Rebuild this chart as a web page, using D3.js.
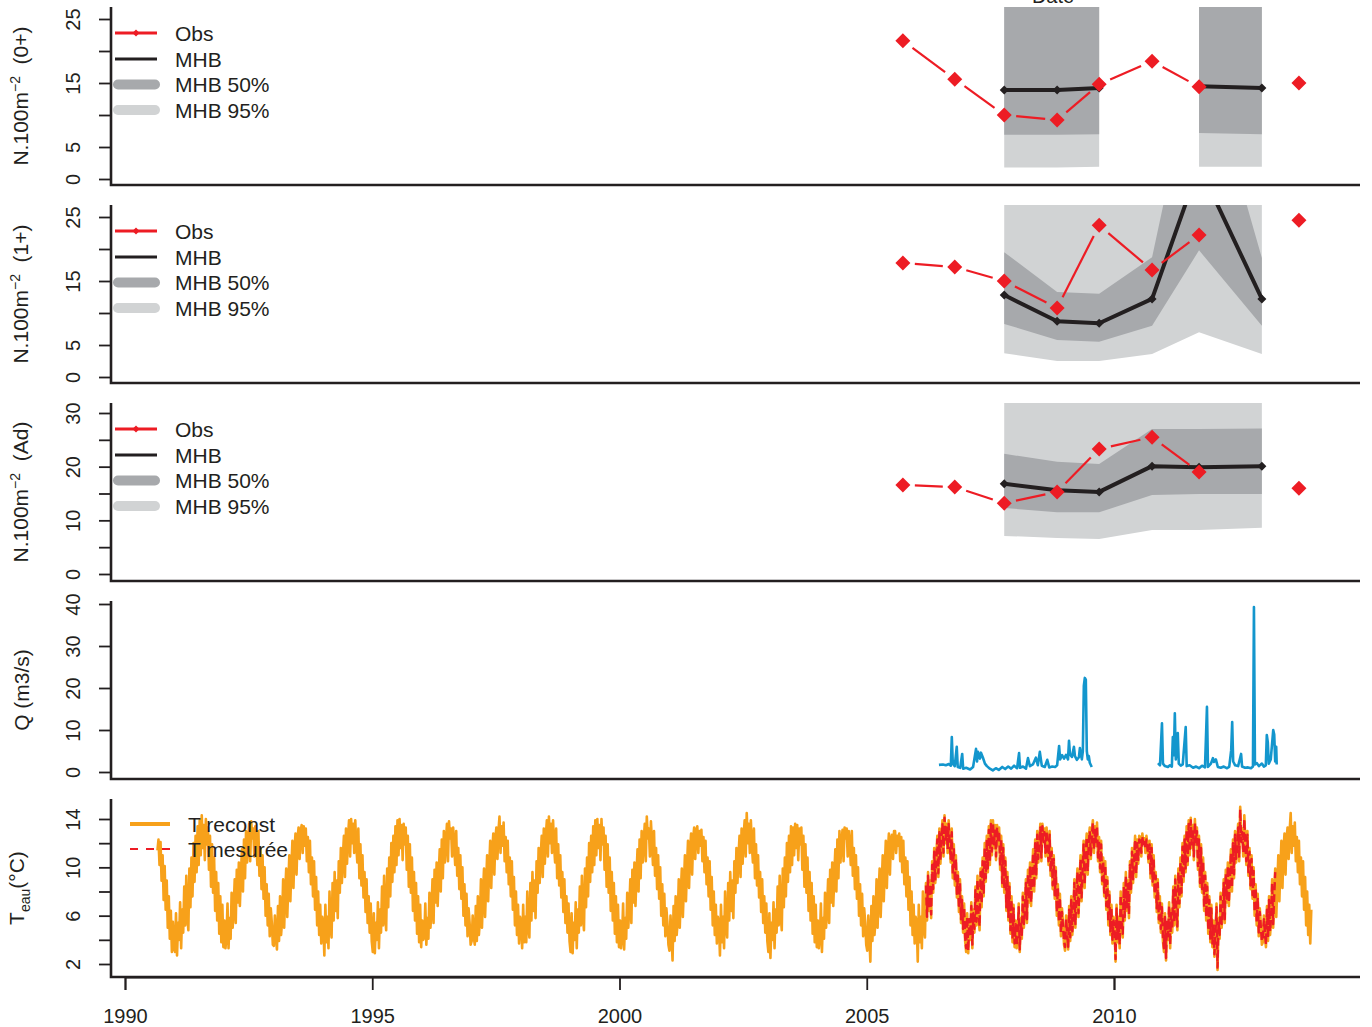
<!DOCTYPE html>
<html><head><meta charset="utf-8">
<script src="https://cdn.jsdelivr.net/npm/d3@7"></script>
<style>body{margin:0;background:#fff} svg{display:block;font-family:"Liberation Sans",Arial,Helvetica,sans-serif}</style>
</head><body><svg id="c" width="1372" height="1027"></svg>
<script>
// ---------------- DATA ----------------
const xTickYears = [1990, 1995, 2000, 2005, 2010];

// sampling dates (decimal years) of observations
const obsYears = [2005.73, 2006.78, 2007.78, 2008.85, 2009.70, 2010.77, 2011.72, 2012.99, 2013.74];
const obs0  = [21.6, 15.6, 10.0, 9.2, 14.8, 18.4, 14.4, null, 15.0];
const obs1  = [17.8, 17.2, 15.0, 10.8, 23.7, 16.7, 22.2, null, 24.5];
const obsAd = [16.6, 16.2, 13.2, 15.3, 23.3, 25.5, 19.0, null, 16.0];

// MHB model (median + 50% and 95% bands)
const mhbYears = [2007.78, 2008.85, 2009.70, 2010.77, 2011.72, 2012.99];
const mhb0     = [13.9, 13.9, 14.2, null, 14.5, 14.2];
const mhb0lo50 = [6.9, 6.9, 7.0, null, 7.2, 7.0];
const mhb0hi50 = [45, 45, 45, null, 45, 45];
const mhb0lo95 = [1.8, 1.8, 1.9, null, 1.9, 1.9];
const mhb0hi95 = [70, 70, 70, null, 70, 70];

const mhb1     = [12.8, 8.7, 8.4, 12.2, 33.0, 12.2];
const mhb1lo50 = [8.3, 5.8, 5.5, 8.0, 19.8, 8.0];
const mhb1hi50 = [19.5, 13.3, 13.0, 18.7, 53.0, 18.6];
const mhb1lo95 = [3.7, 2.5, 2.5, 3.6, 7.0, 3.6];
const mhb1hi95 = [45, 45, 45, 45, 80, 45];

const mhbAd     = [16.8, 15.6, 15.3, 20.1, 19.9, 20.1];
const mhbAdlo50 = [12.3, 11.5, 11.5, 14.7, 14.9, 14.9];
const mhbAdhi50 = [22.4, 20.9, 20.5, 27.0, 27.0, 27.1];
const mhbAdlo95 = [7.1, 6.7, 6.5, 8.2, 8.2, 8.6];
const mhbAdhi95 = [45, 45, 45, 45, 45, 45];

// Discharge Q (m3/s): dates and values (null = gap)
const qYears = [
 2006.46,2006.54,2006.60,2006.66,2006.70,2006.72,2006.74,2006.78,2006.82,2006.84,2006.89,2006.93,2006.95,2007.01,2007.09,2007.15,
 2007.21,2007.23,2007.25,2007.29,2007.31,2007.35,2007.39,2007.43,2007.49,2007.55,2007.61,2007.67,2007.74,2007.80,2007.86,2007.92,
 2007.98,2008.04,2008.08,2008.10,2008.16,2008.22,2008.26,2008.30,2008.36,2008.42,2008.46,2008.50,2008.54,2008.60,2008.65,2008.69,
 2008.75,2008.81,2008.85,2008.89,2008.91,2008.95,2008.99,2009.03,2009.07,2009.09,2009.11,2009.15,2009.19,2009.21,2009.25,2009.29,
 2009.31,2009.35,2009.37,2009.39,2009.41,2009.43,2009.45,2009.47,2009.49,2009.51,2009.55,
 2010.20,
 2010.89,2010.93,2010.97,2010.99,2011.03,2011.09,2011.13,2011.17,2011.19,2011.21,2011.23,2011.25,2011.29,2011.31,2011.35,2011.39,
 2011.45,2011.47,2011.53,2011.60,2011.66,2011.72,2011.78,2011.84,2011.88,2011.90,2011.96,2012.00,2012.02,2012.06,2012.10,2012.16,
 2012.22,2012.28,2012.33,2012.37,2012.39,2012.41,2012.45,2012.51,2012.57,2012.59,2012.65,2012.71,2012.77,2012.81,2012.83,2012.85,
 2012.89,2012.93,2012.99,2013.03,2013.07,2013.09,2013.11,2013.13,2013.17,2013.22,2013.24,2013.26,2013.28,2013.29];
const qValues = [
 1.7,1.8,1.6,1.9,1.5,8.3,2.0,1.4,6.0,1.2,1.0,4.3,0.8,1.0,0.6,1.2,
 5.5,2.5,4.8,3.2,4.6,3.4,2.0,1.4,0.8,0.4,0.9,0.5,1.2,0.7,1.3,0.8,
 1.5,0.9,4.5,1.0,1.3,0.8,3.3,1.4,1.8,3.4,1.6,4.8,1.5,1.2,2.9,1.1,
 1.3,1.2,1.6,6.2,3.0,4.0,3.2,4.1,3.0,7.4,4.2,3.6,6.0,3.8,2.9,3.5,
 5.7,3.0,5.0,20.5,22.4,22.0,5.0,3.0,3.8,2.2,1.2,
 null,
 2.1,1.6,11.6,2.0,1.4,1.2,1.6,1.3,8.3,4.0,14.0,3.0,9.3,2.0,1.5,1.8,
 10.7,1.4,1.6,1.0,1.3,0.9,1.5,1.1,15.5,1.2,2.0,3.3,2.4,3.0,1.2,1.0,
 1.3,0.9,1.2,5.2,11.9,2.5,1.6,1.4,4.3,1.3,1.0,1.1,0.9,1.3,39.3,1.8,
 2.1,1.4,2.0,1.3,1.6,8.8,7.1,2.0,3.0,10.0,8.9,2.5,6.0,1.8];

// Water temperature, weekly values (48 per year). Reconstructed series starts at week 31 of 1990
const tStep = 1/48;
const tReconstStart = 1990 + 31/48 + 1/96;
const tReconst = [
 11.4,12.3,10.2,12.1,8.9,11.0,7.3,10.1,6.5,8.9,5.0,7.6,4.1,6.4,3.0,5.5,3.4,
 3.0,6.2,2.7,5.4,4.0,7.1,3.3,6.5,4.6,8.4,5.2,9.3,6.0,4.8,9.9,6.7,10.8,7.6,12.0,8.8,12.6,9.6,13.4,10.2,13.9,11.0,14.3,11.6,13.5,10.6,14.0,11.9,13.3,9.8,12.6,8.4,11.9,7.9,10.8,6.4,9.6,5.6,8.7,4.5,7.6,3.8,6.9,3.4,
 5.6,3.3,4.2,7.0,3.3,5.8,4.1,7.9,5.0,6.6,9.0,5.4,9.8,7.1,10.4,6.8,9.4,11.5,8.0,12.3,9.1,13.0,10.4,12.1,13.6,10.5,13.8,12.4,13.2,10.9,13.4,12.0,10.2,13.0,9.3,11.6,8.2,11.0,7.4,10.0,6.0,8.6,5.2,7.8,4.3,6.6,5.4,3.6,
 3.5,6.0,4.3,3.2,6.8,3.9,7.6,4.4,5.6,9.0,5.0,7.9,9.9,5.9,8.5,11.0,7.2,10.0,12.2,8.3,11.4,12.8,9.4,12.4,13.3,10.7,13.0,13.5,11.2,13.4,11.8,13.2,10.5,12.5,9.6,12.2,8.6,10.8,7.6,10.5,6.5,9.2,5.2,8.0,4.4,6.9,3.7,5.9,
 5.4,2.7,6.9,3.8,5.9,3.3,8.0,5.1,4.2,8.7,5.6,9.6,6.4,8.9,5.8,10.5,7.9,11.6,8.7,10.9,12.6,9.2,13.2,10.3,12.6,13.9,10.9,14.0,12.0,13.6,11.2,13.9,11.8,10.4,13.2,9.1,11.9,8.5,11.0,7.5,9.6,6.3,9.0,5.4,7.6,4.6,7.0,3.9,
 3.0,6.2,2.9,5.4,4.0,7.1,3.3,6.5,4.6,8.4,5.2,9.3,6.0,4.8,9.9,6.7,10.8,7.6,12.0,8.8,12.6,9.6,13.4,10.2,13.9,11.0,14.0,11.6,13.5,10.6,13.6,11.9,13.3,9.8,12.6,8.4,11.9,7.9,10.8,6.4,9.6,5.6,8.7,4.5,7.6,3.8,6.9,3.4,
 5.6,4.0,4.2,7.0,3.6,5.8,4.1,7.9,5.0,6.6,9.0,5.4,9.8,7.1,10.4,6.8,9.4,11.5,8.0,12.3,9.1,13.0,10.4,12.1,13.6,10.5,13.8,12.4,13.2,10.9,13.3,12.0,10.2,13.0,9.3,11.6,8.2,11.0,7.4,10.0,6.0,8.6,5.2,7.8,4.3,6.6,5.4,3.6,
 3.9,6.0,4.3,3.6,6.8,3.9,7.6,4.4,5.6,9.0,5.0,7.9,9.9,5.9,8.5,11.0,7.2,10.0,12.2,8.3,11.4,12.8,9.4,12.4,13.3,10.7,13.0,14.2,11.2,13.4,11.8,13.7,10.5,12.5,9.6,12.2,8.6,10.8,7.6,10.5,6.5,9.2,5.2,8.0,4.4,6.9,3.7,5.9,
 5.4,3.3,6.9,3.8,5.9,3.8,8.0,5.1,4.2,8.7,5.6,9.6,6.4,8.9,5.8,10.5,7.9,11.6,8.7,10.9,12.6,9.2,13.2,10.3,12.6,13.9,10.9,14.2,12.0,13.6,11.2,13.9,11.8,10.4,13.2,9.1,11.9,8.5,11.0,7.5,9.6,6.3,9.0,5.4,7.6,4.6,7.0,3.9,
 3.0,6.2,2.9,5.4,4.0,7.1,3.3,6.5,4.6,8.4,5.2,9.3,6.0,4.8,9.9,6.7,10.8,7.6,12.0,8.8,12.6,9.6,13.4,10.2,13.9,11.0,14.0,11.6,13.5,10.6,14.0,11.9,13.3,9.8,12.6,8.4,11.9,7.9,10.8,6.4,9.6,5.6,8.7,4.5,7.6,3.8,6.9,3.4,
 5.6,3.3,4.2,7.0,3.2,5.8,4.1,7.9,5.0,6.6,9.0,5.4,9.8,7.1,10.4,6.8,9.4,11.5,8.0,12.3,9.1,13.0,10.4,12.1,13.6,10.5,14.2,12.4,13.2,10.9,13.8,12.0,10.2,13.0,9.3,11.6,8.2,11.0,7.4,10.0,6.0,8.6,5.2,7.8,4.3,6.6,5.4,3.6,
 3.1,6.0,4.3,2.3,6.8,3.9,7.6,4.4,5.6,9.0,5.0,7.9,9.9,5.9,8.5,11.0,7.2,10.0,12.2,8.3,11.4,12.8,9.4,12.4,13.3,10.7,13.0,13.4,11.2,13.0,11.8,13.1,10.5,12.5,9.6,12.2,8.6,10.8,7.6,10.5,6.5,9.2,5.2,8.0,4.4,6.9,3.7,5.9,
 5.4,2.7,6.9,3.8,5.9,3.3,8.0,5.1,4.2,8.7,5.6,9.6,6.4,8.9,5.8,10.5,7.9,11.6,8.7,10.9,12.6,9.2,13.2,10.3,12.6,13.9,10.9,14.5,12.0,13.6,11.2,13.9,11.8,10.4,13.2,9.1,11.9,8.5,11.0,7.5,9.6,6.3,9.0,5.4,7.6,4.6,7.0,3.9,
 3.0,6.2,2.5,5.4,4.0,7.1,3.3,6.5,4.6,8.4,5.2,9.3,6.0,4.8,9.9,6.7,10.8,7.6,12.0,8.8,12.6,9.6,13.4,10.2,13.3,11.0,13.6,11.6,13.5,10.6,13.2,11.9,13.3,9.8,12.6,8.4,11.9,7.9,10.8,6.4,9.6,5.6,8.7,4.5,7.6,3.8,6.9,3.4,
 5.6,3.3,4.2,7.0,3.0,5.8,4.1,7.9,5.0,6.6,9.0,5.4,9.8,7.1,10.4,6.8,9.4,11.5,8.0,12.3,9.1,13.0,10.4,12.1,13.1,10.5,13.3,12.4,13.2,10.9,13.0,12.0,10.2,13.0,9.3,11.6,8.2,11.0,7.4,10.0,6.0,8.6,5.2,7.8,4.3,6.6,5.4,3.6,
 3.1,6.0,4.3,2.2,6.8,3.9,7.6,4.4,5.6,9.0,5.0,7.9,9.9,5.9,8.5,11.0,7.2,10.0,12.2,8.3,11.4,12.8,9.4,12.4,12.7,10.7,13.0,13.0,11.2,12.6,11.8,12.8,10.5,12.5,9.6,12.2,8.6,10.8,7.6,10.5,6.5,9.2,5.2,8.0,4.4,6.9,3.7,5.9,
 5.4,2.2,6.9,3.8,5.9,3.3,8.0,5.1,4.2,8.7,5.6,9.6,6.4,8.9,5.8,10.5,7.9,11.6,8.7,10.9,12.6,9.2,13.2,10.3,12.6,13.9,10.9,14.3,12.0,13.6,11.2,13.9,11.8,10.4,13.2,9.1,11.9,8.5,11.0,7.5,9.6,6.3,9.0,5.4,7.6,4.6,7.0,3.9,
 3.0,6.2,2.9,5.4,4.0,7.1,3.3,6.5,4.6,8.4,5.2,9.3,6.0,4.8,9.9,6.7,10.8,7.6,12.0,8.8,12.6,9.6,13.4,10.2,13.9,11.0,13.9,11.6,13.5,10.6,13.5,11.9,13.3,9.8,12.6,8.4,11.9,7.9,10.8,6.4,9.6,5.6,8.7,4.5,7.6,3.8,6.9,3.4,
 5.6,3.3,4.2,7.0,3.0,5.8,4.1,7.9,5.0,6.6,9.0,5.4,9.8,7.1,10.4,6.8,9.4,11.5,8.0,12.3,9.1,13.0,10.4,12.1,13.6,10.5,13.6,12.4,13.2,10.9,13.3,12.0,10.2,13.0,9.3,11.6,8.2,11.0,7.4,10.0,6.0,8.6,5.2,7.8,4.3,6.6,5.4,3.6,
 3.1,6.0,4.3,3.2,6.8,3.9,7.6,4.4,5.6,9.0,5.0,7.9,9.9,5.9,8.5,11.0,7.2,10.0,12.2,8.3,11.4,12.8,9.4,12.4,13.3,10.7,13.0,13.9,11.2,13.4,11.8,13.7,10.5,12.5,9.6,12.2,8.6,10.8,7.6,10.5,6.5,9.2,5.2,8.0,4.4,6.9,3.7,5.9,
 5.4,2.2,6.9,3.8,5.9,3.3,8.0,5.1,4.2,8.7,5.6,9.6,6.4,8.9,5.8,10.5,7.9,11.6,8.7,10.9,12.6,9.2,12.3,10.3,12.6,12.5,10.9,12.8,12.0,12.4,11.2,12.6,11.8,10.4,12.2,9.1,11.9,8.5,11.0,7.5,9.6,6.3,9.0,5.4,7.6,4.6,7.0,3.9,
 3.0,6.2,2.3,5.4,4.0,7.1,3.3,6.5,4.6,8.4,5.2,9.3,6.0,4.8,9.9,6.7,10.8,7.6,12.0,8.8,12.6,9.6,13.4,10.2,13.9,11.0,14.1,11.6,13.5,10.6,14.0,11.9,13.3,9.8,12.6,8.4,11.9,7.9,10.8,6.4,9.6,5.6,8.7,4.5,7.6,3.8,6.9,3.4,
 5.6,2.6,4.2,7.0,1.5,5.8,4.1,7.9,5.0,6.6,9.0,5.4,9.8,7.1,10.4,6.8,9.4,11.5,8.0,12.3,9.1,13.0,10.4,12.1,13.6,10.5,15.0,12.4,13.2,10.9,14.3,12.0,10.2,13.0,9.3,11.6,8.2,11.0,7.4,10.0,6.0,8.6,5.2,7.8,4.3,6.6,5.4,3.6,
 3.8,6.0,4.3,3.4,6.8,3.9,7.6,4.4,5.6,9.0,5.0,7.9,9.9,5.9,8.5,11.0,7.2,10.0,12.2,8.3,11.4,12.8,9.4,12.4,13.3,10.7,13.0,14.5,11.2,13.4,11.8,13.7,10.5,12.5,9.6,12.2,8.6,10.8,7.6,10.5,6.5,9.2,5.2,8.0,4.4,6.9,3.7,6.5];

// Measured temperature, weekly values, starts at week 9 of 2006
const tMesureStart = 2006 + 9/48 + 1/96;
const tMesure = [
 8.5,5.9,9.3,6.6,8.6,6.1,10.2,8.2,11.3,8.9,10.6,12.3,9.5,12.9,10.6,12.4,13.6,11.2,14.1,12.3,13.3,11.5,13.6,12.0,10.7,12.9,9.4,11.6,8.8,10.7,7.8,9.3,6.6,8.7,5.7,7.3,4.9,6.7,4.2,
 3.3,5.9,3.1,5.7,4.3,6.8,3.6,6.2,4.9,8.1,5.5,9.0,6.3,5.1,9.6,7.0,10.5,7.9,11.7,9.1,12.3,9.9,13.1,10.5,13.6,11.3,13.7,11.9,13.2,10.9,13.3,12.1,13.0,10.1,12.3,8.7,11.6,8.2,10.5,6.7,9.3,5.9,8.4,4.8,7.3,4.1,6.6,3.7,
 5.3,3.5,4.5,6.7,3.2,5.5,4.4,7.6,5.3,6.3,8.7,5.7,9.5,7.4,10.1,7.1,9.1,11.2,8.3,12.0,9.4,12.7,10.7,11.8,13.3,10.8,13.4,12.1,12.9,11.2,13.0,11.7,10.5,12.7,9.6,11.3,8.5,10.7,7.7,9.7,6.3,8.3,5.5,7.5,4.6,6.3,5.1,3.9,
 3.4,5.7,4.6,3.4,6.5,4.2,7.3,4.7,5.9,8.7,5.3,7.6,9.6,6.2,8.2,10.7,7.5,9.7,11.9,8.6,11.1,12.5,9.7,12.1,13.0,11.0,12.7,13.7,11.5,13.1,12.1,13.4,10.8,12.2,9.9,11.9,8.9,10.5,7.9,10.2,6.8,8.9,5.5,7.7,4.7,6.6,4.0,5.6,
 5.1,2.4,6.6,4.1,5.6,3.6,7.7,5.4,4.5,8.4,5.9,9.3,6.7,8.6,6.1,10.2,8.2,11.3,9.0,10.6,12.3,9.5,12.0,10.6,12.3,12.2,11.2,12.6,11.7,12.1,11.5,12.3,11.5,10.7,11.9,9.4,11.6,8.8,10.7,7.8,9.3,6.6,8.7,5.7,7.3,4.9,6.7,4.2,
 3.3,5.9,2.5,5.7,4.3,6.8,3.6,6.2,4.9,8.1,5.5,9.0,6.3,5.1,9.6,7.0,10.5,7.9,11.7,9.1,12.3,9.9,13.1,10.5,13.6,11.3,13.9,11.9,13.2,10.9,13.7,12.1,13.0,10.1,12.3,8.7,11.6,8.2,10.5,6.7,9.3,5.9,8.4,4.8,7.3,4.1,6.6,3.7,
 5.3,2.8,4.5,6.7,1.7,5.5,4.4,7.6,5.3,6.3,8.7,5.7,9.5,7.4,10.1,7.1,9.1,11.2,8.3,12.0,9.4,12.7,10.7,11.8,13.3,10.8,14.8,12.1,12.9,11.2,14.0,11.7,10.5,12.7,9.6,11.3,8.5,10.7,7.7,9.7,6.3,8.3,5.5,7.5,4.6,6.3,5.1,3.9,
 4.0,5.7,4.6,3.6,6.5,4.2,7.3,4.7,5.9,8.7,5.3,7.6,9.6];

// ---------------- STYLE ----------------
const C = {ink:'#231f20', red:'#ed1c24', dark:'#a7a9ac', light:'#d1d3d4', blue:'#1396cd', orange:'#f7a11a'};
const L = 111, R = 1360, H = 178;
const tops = [7, 205, 403, 601, 799];
const svg = d3.select('#c');
const x = d3.scaleLinear().domain([1990, 2010]).range([125, 1114]);
const ys = [
  d3.scaleLinear().domain([0, 25]).range([tops[0]+172, tops[0]+12]),
  d3.scaleLinear().domain([0, 25]).range([tops[1]+172, tops[1]+12]),
  d3.scaleLinear().domain([0, 30]).range([tops[2]+171, tops[2]+10]),
  d3.scaleLinear().domain([0, 40]).range([tops[3]+171, tops[3]+3]),
  d3.scaleLinear().domain([2, 14]).range([tops[4]+165, tops[4]+20])
];
const yTicks = [[0,5,10,15,20,25],[0,5,10,15,20,25],[0,5,10,15,20,25,30],[0,10,20,30,40],[2,4,6,8,10,12,14]];
const yLabels = [[0,5,15,25],[0,5,15,25],[0,10,20,30],[0,10,20,30,40],[2,6,10,14]];

const defs = svg.append('defs');
tops.forEach((t,i)=>{
  defs.append('clipPath').attr('id','clip'+i).append('rect')
    .attr('x', L).attr('y', t).attr('width', R-L).attr('height', H);
});

// "Date" title (mostly cut off at the top, as in the original)
svg.append('text').attr('x', 1053).attr('y', 3).attr('text-anchor','middle')
  .attr('font-size', 20).attr('fill', C.ink).text('Date');

const diamond = r => `M0,${-r}L${r},0L0,${r}L${-r},0Z`;

function drawModelPanel(i, obs, mid, lo50, hi50, lo95, hi95){
  const y = ys[i];
  const g = svg.append('g').attr('clip-path', `url(#clip${i})`);
  const rows = mhbYears.map((t,k)=>({t, m:mid[k], lo50:lo50[k], hi50:hi50[k], lo95:lo95[k], hi95:hi95[k]}));
  const def = d => d.m != null;
  g.append('path').datum(rows).attr('fill', C.light)
    .attr('d', d3.area().defined(def).x(d=>x(d.t)).y0(d=>y(d.lo95)).y1(d=>y(d.hi95)));
  g.append('path').datum(rows).attr('fill', C.dark)
    .attr('d', d3.area().defined(def).x(d=>x(d.t)).y0(d=>y(d.lo50)).y1(d=>y(d.hi50)));
  g.append('path').datum(rows).attr('fill','none').attr('stroke', C.ink).attr('stroke-width', 4)
    .attr('stroke-linejoin','round')
    .attr('d', d3.line().defined(def).x(d=>x(d.t)).y(d=>y(d.m)));
  g.selectAll(null).data(rows.filter(def)).join('path')
    .attr('transform', d=>`translate(${x(d.t)},${y(d.m)})`).attr('d', diamond(4.5)).attr('fill', C.ink);
  const pts = obsYears.map((t,k)=>({t, v:obs[k]}));
  const segs = [];
  for (let k=0; k<pts.length-1; k++){
    const a = pts[k], b = pts[k+1];
    if (a.v == null || b.v == null) continue;
    const x1 = x(a.t), y1 = y(a.v), x2 = x(b.t), y2 = y(b.v);
    const dx = x2-x1, dy = y2-y1, len = Math.hypot(dx,dy), gap = 12;
    if (len <= 2*gap) continue;
    segs.push([x1+dx*gap/len, y1+dy*gap/len, x2-dx*gap/len, y2-dy*gap/len]);
  }
  g.selectAll(null).data(segs).join('line')
    .attr('x1', d=>d[0]).attr('y1', d=>d[1]).attr('x2', d=>d[2]).attr('y2', d=>d[3])
    .attr('stroke', C.red).attr('stroke-width', 2.2);
  g.selectAll(null).data(pts.filter(d=>d.v!=null)).join('path')
    .attr('transform', d=>`translate(${x(d.t)},${y(d.v)})`).attr('d', diamond(7.5)).attr('fill', C.red);
  const lg = svg.append('g').attr('font-size', 21).attr('fill', C.ink);
  const t = tops[i];
  const rowsY = [t+26, t+52, t+77.5, t+103];
  lg.append('line').attr('x1',115).attr('x2',157).attr('y1',rowsY[0]).attr('y2',rowsY[0]).attr('stroke',C.red).attr('stroke-width',3);
  lg.append('path').attr('transform',`translate(136,${rowsY[0]})`).attr('d',diamond(3.5)).attr('fill',C.red);
  lg.append('line').attr('x1',115).attr('x2',157).attr('y1',rowsY[1]).attr('y2',rowsY[1]).attr('stroke',C.ink).attr('stroke-width',3);
  lg.append('line').attr('x1',118).attr('x2',155).attr('y1',rowsY[2]).attr('y2',rowsY[2]).attr('stroke',C.dark).attr('stroke-width',10).attr('stroke-linecap','round');
  lg.append('line').attr('x1',118).attr('x2',155).attr('y1',rowsY[3]).attr('y2',rowsY[3]).attr('stroke',C.light).attr('stroke-width',10).attr('stroke-linecap','round');
  ['Obs','MHB','MHB 50%','MHB 95%'].forEach((s,k)=>{
    lg.append('text').attr('x',175).attr('y',rowsY[k]).attr('dy','0.36em').text(s);
  });
}

drawModelPanel(0, obs0, mhb0, mhb0lo50, mhb0hi50, mhb0lo95, mhb0hi95);
drawModelPanel(1, obs1, mhb1, mhb1lo50, mhb1hi50, mhb1lo95, mhb1hi95);
drawModelPanel(2, obsAd, mhbAd, mhbAdlo50, mhbAdhi50, mhbAdlo95, mhbAdhi95);

// Q panel
{
  const y = ys[3];
  const g = svg.append('g').attr('clip-path','url(#clip3)');
  const rows = qYears.map((t,k)=>({t, v:qValues[k]}));
  g.append('path').datum(rows).attr('fill','none').attr('stroke',C.blue).attr('stroke-width',2.6)
    .attr('stroke-linejoin','round')
    .attr('d', d3.line().defined(d=>d.v!=null).x(d=>x(d.t)).y(d=>y(d.v)));
}

// Temperature panel
{
  const y = ys[4];
  const g = svg.append('g').attr('clip-path','url(#clip4)');
  const rec = tReconst.map((v,k)=>({t: tReconstStart + k*tStep, v}));
  const mes = tMesure.map((v,k)=>({t: tMesureStart + k*tStep, v}));
  const line = d3.line().x(d=>x(d.t)).y(d=>y(d.v));
  g.append('path').datum(rec).attr('fill','none').attr('stroke',C.orange).attr('stroke-width',2.6)
    .attr('stroke-linejoin','round').attr('d', line);
  g.append('path').datum(mes).attr('fill','none').attr('stroke',C.red).attr('stroke-width',2.4)
    .attr('stroke-dasharray','8,4').attr('stroke-linejoin','round').attr('d', line);
  const t = tops[4];
  const lg = svg.append('g').attr('font-size', 21).attr('fill', C.ink);
  lg.append('line').attr('x1',130).attr('x2',170).attr('y1',t+25).attr('y2',t+25).attr('stroke',C.orange).attr('stroke-width',4);
  lg.append('line').attr('x1',130).attr('x2',170).attr('y1',t+50).attr('y2',t+50).attr('stroke',C.red).attr('stroke-width',2).attr('stroke-dasharray','8,8');
  lg.append('text').attr('x',188).attr('y',t+25).attr('dy','0.36em').text('T reconst');
  lg.append('text').attr('x',188).attr('y',t+50).attr('dy','0.36em').text('T mesurée');
}

// frames and y axes
tops.forEach((t,i)=>{
  const b = t + H;
  const labs = yLabels[i];
  const ax = svg.append('g').attr('transform',`translate(${L},0)`)
    .call(d3.axisLeft(ys[i]).tickValues(yTicks[i]).tickSize(12)
      .tickFormat(d => labs.includes(d) ? String(d) : ''));
  ax.select('.domain').remove();
  ax.attr('font-family', null);
  ax.selectAll('.tick line').attr('stroke', C.ink).attr('stroke-width', 1.8);
  ax.selectAll('.tick text').attr('x',0).attr('dy',null).attr('y',0)
    .attr('transform','translate(-31,0) rotate(-90)').attr('text-anchor','middle')
    .attr('font-size',20).attr('fill',C.ink);
  svg.append('path').attr('d', `M${L},${t}V${b}H${R}`).attr('fill','none')
    .attr('stroke', C.ink).attr('stroke-width', 2.6);
});

// y titles
function yTitle(cx, cy, build){
  const tx = svg.append('text').attr('transform',`translate(${cx},${cy}) rotate(-90)`)
    .attr('text-anchor','middle').attr('font-size',21).attr('fill',C.ink);
  build(tx);
}
const nTitle = suffix => tx => {
  tx.append('tspan').text('N.100m');
  tx.append('tspan').attr('font-size',14).attr('dy',-8).text('\u22122');
  tx.append('tspan').attr('dy',8).text('\u00a0\u00a0' + suffix);
};
yTitle(28, tops[0]+H/2, nTitle('(0+)'));
yTitle(28, tops[1]+H/2, nTitle('(1+)'));
yTitle(28, tops[2]+H/2, nTitle('(Ad)'));
yTitle(29, tops[3]+H/2, tx => tx.text('Q (m3/s)'));
yTitle(24, tops[4]+H/2, tx => {
  tx.append('tspan').text('T');
  tx.append('tspan').attr('font-size',14).attr('dy',6).text('eau');
  tx.append('tspan').attr('dy',-6).text('(°C)');
});

// x axis
{
  const ax = svg.append('g').attr('transform',`translate(0,${tops[4]+H})`)
    .call(d3.axisBottom(x).tickValues(xTickYears).tickSize(13).tickPadding(19).tickFormat(d3.format('d')));
  ax.attr('font-family', null).attr('font-size', 20);
  ax.select('.domain').attr('stroke', C.ink).attr('stroke-width', 1.8);
  ax.selectAll('.tick line').attr('stroke', C.ink).attr('stroke-width', 1.8);
  ax.selectAll('.tick text').attr('font-size', 20).attr('fill', C.ink);
}
</script>
</body></html>
